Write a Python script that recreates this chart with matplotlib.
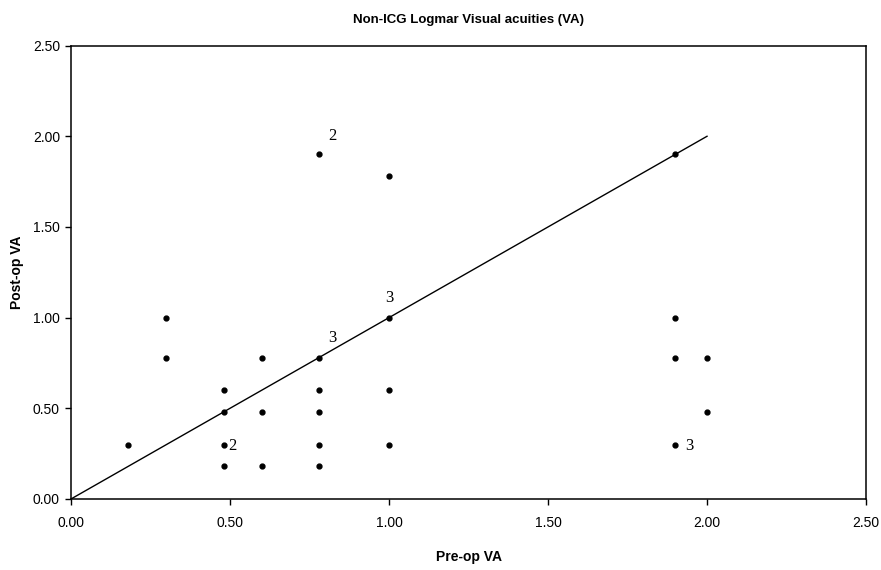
import matplotlib
matplotlib.use("Agg")
import matplotlib.pyplot as plt

plt.rcParams['font.family'] = ['Liberation Sans', 'DejaVu Sans']

# pre-op / post-op logMAR pairs
pre_va = [0.18, 0.30, 0.30, 0.48, 0.48, 0.48, 0.48, 0.60, 0.60, 0.60,
          0.78, 0.78, 0.78, 0.78, 0.78, 0.78, 1.00, 1.00, 1.00, 1.00,
          1.90, 1.90, 1.90, 1.90, 2.00, 2.00]
post_va = [0.30, 1.00, 0.78, 0.60, 0.48, 0.30, 0.18, 0.78, 0.48, 0.18,
           1.90, 0.78, 0.60, 0.48, 0.30, 0.18, 1.78, 1.00, 0.60, 0.30,
           1.90, 1.00, 0.78, 0.30, 0.78, 0.48]

# counts of overlapping points
count_x = [0.78, 1.00, 0.78, 0.48, 1.90]
count_y = [1.90, 1.00, 0.78, 0.30, 0.30]
count_txt = ['2', '3', '3', '2', '3']
count_dx = [0.03, 0.0, 0.03, 0.015, 0.03]
count_dy = [0.10, 0.11, 0.11, -0.01, -0.01]

line_x = [0, 2]
line_y = [0, 2]

ticks = [0, 0.5, 1.0, 1.5, 2.0, 2.5]

fig = plt.figure(figsize=(8.81, 5.70), dpi=100)
ax = fig.add_axes([0.0806, 0.1246, 0.9024, 0.7954])

ax.plot(line_x, line_y, color='black', lw=1.0)
ax.plot(pre_va, post_va, 'o', color='black', markersize=3.5)

for x, y, t, dx, dy in zip(count_x, count_y, count_txt, count_dx, count_dy):
    ax.text(x + dx, y + dy, t, family='Liberation Serif', fontsize=12,
            ha='left' if dx > 0.01 else 'center', va='center')

ax.set_xlim(0, 2.5)
ax.set_ylim(0, 2.5)
ax.set_xticks(ticks)
ax.set_yticks(ticks)
ax.set_xticklabels(['%.2f' % t for t in ticks], fontsize=10)
ax.set_yticklabels(['%.2f' % t for t in ticks], fontsize=10)
ax.tick_params(direction='out', length=4, width=1)
ax.tick_params(axis='x', pad=8)
ax.tick_params(axis='y', pad=4)
for s in ax.spines.values():
    s.set_linewidth(1.1)

ax.set_xlabel('Pre-op VA', fontsize=10, fontweight='bold', labelpad=15)
ax.set_ylabel('Post-op VA', fontsize=10, fontweight='bold', labelpad=6)
ax.set_title('Non-ICG Logmar Visual acuities (VA)', fontsize=9.5,
             fontweight='bold', pad=16)

fig.savefig('out.png', dpi=100)
